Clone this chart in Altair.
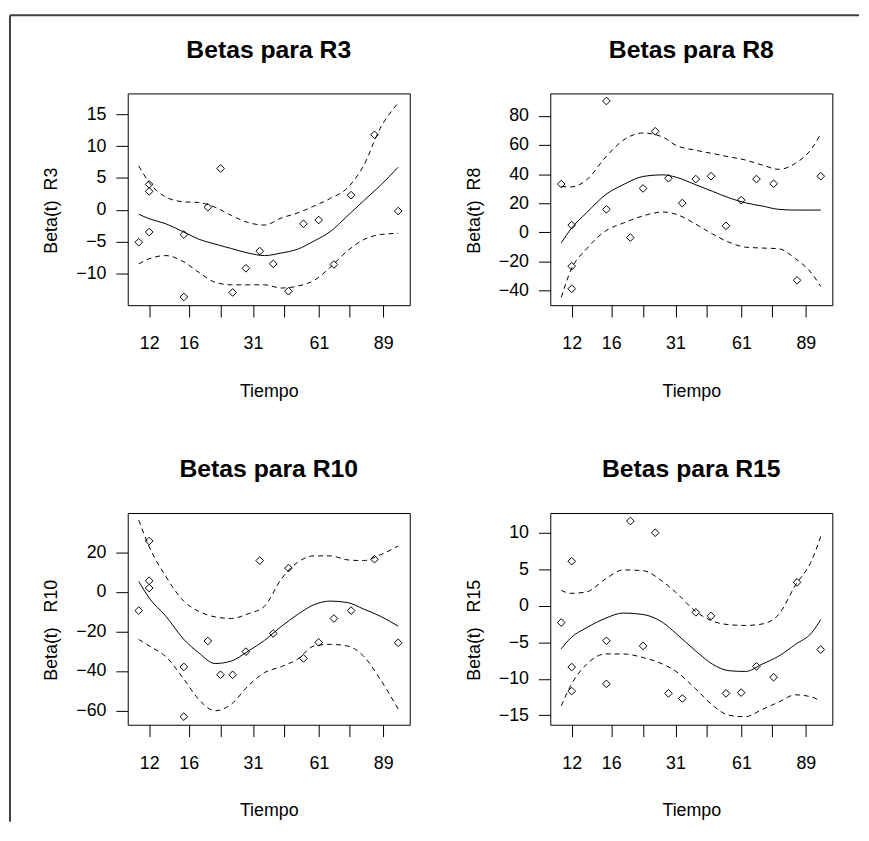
import altair as alt
import pandas as pd

FONT = "Liberation Sans"

# ---- shared x axis (transformed time scale, 0..1) ----
TIME_TICKS = [0.076, 0.216, 0.330, 0.444, 0.556, 0.678, 0.787, 0.906]
TIME_LABELS = ["12", "16", "", "31", "", "61", "", "89"]

POINT_TIME = [0.039, 0.076, 0.076, 0.076, 0.199, 0.199, 0.284, 0.329, 0.372, 0.419,
              0.468, 0.516, 0.570, 0.623, 0.677, 0.731, 0.792, 0.875, 0.959]

CURVE_TIME_A = [0.039, 0.076, 0.135, 0.199, 0.251, 0.310, 0.368, 0.427, 0.485,
                0.544, 0.602, 0.661, 0.719, 0.778, 0.836, 0.895, 0.959]
CURVE_TIME_B = [0.039, 0.073, 0.129, 0.197, 0.258, 0.329, 0.399, 0.446, 0.516,
                0.575, 0.634, 0.692, 0.751, 0.810, 0.869, 0.927, 0.959]

TITLES = ["Betas para R3", "Betas para R8", "Betas para R10", "Betas para R15"]
YLABELS = ["Beta(t)\u00a0\u00a0R3", "Beta(t)\u00a0\u00a0R8",
           "Beta(t)\u00a0\u00a0\u00a0R10", "Beta(t)\u00a0\u00a0\u00a0R15"]
X_TITLE = "Tiempo"

# ---- R3 ----
R3_POINTS = [-5.1, 4.0, 2.9, -3.5, -3.9, -13.7, 0.4, 6.5, -13.0, -9.2,
             -6.5, -8.5, -12.8, -2.2, -1.6, -8.6, 2.3, 11.8, -0.2]
R3_FIT = [-0.7, -1.4, -2.2, -3.5, -4.6, -5.4, -6.1, -6.8, -7.2, -6.8, -6.2,
          -4.9, -3.4, -1.0, 1.4, 3.8, 6.7]
R3_UPPER = [6.9, 4.3, 2.0, 1.25, 1.15, 0.4, -0.9, -2.0, -2.4, -1.3, -0.5,
            0.6, 1.8, 3.4, 6.9, 12.8, 16.8]
R3_LOWER = [-8.5, -7.7, -7.2, -8.2, -9.8, -11.4, -11.8, -11.8, -11.8, -12.3,
            -12.0, -11.1, -9.0, -6.5, -4.7, -3.9, -3.7]
R3_YDOMAIN = [-15.0, 18.3]
R3_YTICKS = [-10, -5, 0, 5, 10, 15]

# ---- R8 ----
R8_POINTS = [33.2, 5.0, -23.3, -38.8, 90.3, 15.8, -3.6, 30.2, 69.5, 37.2,
             20.1, 36.6, 38.6, 4.5, 22.1, 36.6, 33.4, -33.0, 38.6]
R8_FIT = [-7.2, 2.3, 13.5, 26.0, 32.7, 38.4, 39.5, 37.9, 32.7, 28.2, 23.7,
          20.3, 18.1, 15.8, 15.3, 15.3, 15.3]
R8_UPPER = [31.6, 31.2, 36.1, 51.9, 63.2, 68.3, 65.5, 59.8, 56.4, 54.2, 51.9,
            49.7, 46.3, 43.3, 47.4, 57.6, 67.7]
R8_LOWER = [-44.7, -26.0, -11.3, 1.1, 6.3, 11.3, 14.0, 12.4, 5.6, -1.1, -6.8,
            -10.2, -10.8, -11.3, -18.1, -28.2, -37.2]
R8_YDOMAIN = [-50.1, 95.5]
R8_YTICKS = [-40, -20, 0, 20, 40, 60, 80]

# ---- R10 ----
R10_POINTS = [-9.4, 25.8, 5.7, 2.0, -37.9, -63.1, -24.8, -41.9, -41.9, -30.2,
              15.9, -21.0, 12.1, -33.6, -25.5, -13.4, -9.4, 16.6, -25.7]
R10_FIT = [5.4, -3.0, -12.2, -24.0, -30.7, -36.2, -34.9, -29.9, -24.5, -17.5,
           -11.4, -6.4, -4.6, -5.3, -8.6, -12.2, -17.3]
R10_UPPER = [36.4, 23.0, 7.9, -4.7, -9.7, -12.6, -13.4, -11.0, -7.2, 6.5,
             15.0, 18.3, 18.3, 16.3, 15.9, 18.8, 23.3]
R10_LOWER = [-24.0, -27.3, -32.7, -44.1, -54.2, -60.1, -56.7, -47.5, -40.8,
             -37.8, -34.0, -27.3, -26.5, -27.3, -32.4, -44.1, -59.2]
R10_YDOMAIN = [-67.2, 40.0]
R10_YTICKS = [-60, -40, -20, 0, 20]

# ---- R15 ----
R15_POINTS = [-2.3, 6.1, -8.4, -11.7, -4.8, -10.7, 11.6, -5.5, 10.0, -12.0,
              -12.7, -0.9, -1.4, -12.0, -11.9, -8.3, -9.8, 3.2, -6.0]
R15_FIT = [-5.9, -4.4, -3.0, -1.7, -1.0, -1.2, -2.3, -3.8, -6.2, -8.0, -8.9,
           -9.0, -8.0, -6.9, -5.3, -3.7, -1.9]
R15_UPPER = [2.1, 1.7, 1.9, 3.7, 4.9, 4.8, 3.3, 1.8, -0.8, -2.1, -2.6, -2.7,
             -2.5, -1.2, 2.8, 6.2, 9.5]
R15_LOWER = [-13.7, -10.9, -8.0, -6.6, -6.6, -7.1, -8.0, -9.0, -11.4, -13.6,
             -15.0, -15.2, -14.2, -13.2, -12.2, -12.5, -13.1]
R15_YDOMAIN = [-16.3, 12.7]
R15_YTICKS = [-15, -10, -5, 0, 5, 10]

W, H = 285, 214

label_expr = "[" + ",".join("'%s'" % s for s in TIME_LABELS) + "][indexof([" + \
    ",".join(str(v) for v in TIME_TICKS) + "], datum.value)]"


def panel(title, ylab, pts, cu, fit, upper, lower, ydom, yticks, frame=False):
    n = len(cu)
    pts_df = pd.DataFrame({"u": POINT_TIME, "beta": pts})
    cur_df = pd.DataFrame({"u": cu * 3, "beta": fit + upper + lower,
                           "band": ["fit"] * n + ["upper"] * n + ["lower"] * n})
    x = alt.X("u:Q", scale=alt.Scale(domain=[0, 1], nice=False, zero=False),
              axis=alt.Axis(values=TIME_TICKS, labelExpr=label_expr, title=X_TITLE,
                            titleY=92, titleBaseline="alphabetic"))
    y = alt.Y("beta:Q", scale=alt.Scale(domain=ydom, nice=False, zero=False),
              axis=alt.Axis(values=yticks, title=ylab, titleX=-72, titleY=118,
                            titleBaseline="alphabetic", titleAlign="center"))
    base = alt.Chart(cur_df).encode(x=x, y=y)
    solid = base.transform_filter(alt.datum.band == "fit").mark_line(
        color="black", strokeWidth=1, interpolate="monotone")
    dashed = base.transform_filter(alt.datum.band != "fit").mark_line(
        color="black", strokeWidth=1, strokeDash=[5, 4], interpolate="monotone"
    ).encode(detail="band:N")
    points = alt.Chart(pts_df).mark_point(
        shape="diamond", size=60, filled=False, color="black", strokeWidth=1, opacity=1
    ).encode(x=x, y=y)
    ttl = alt.Chart(pd.DataFrame({"t": [title]})).mark_text(
        font=FONT, fontSize=25, fontWeight="bold", baseline="alphabetic",
        align="center", color="black"
    ).encode(text="t:N", x=alt.value(W / 2), y=alt.value(-36))
    layers = [solid, dashed, points, ttl]
    if frame:
        fdf = pd.DataFrame({"k": [0]})
        top = alt.Chart(fdf).mark_rule(color="#404040", strokeWidth=2).encode(
            x=alt.value(-119), x2=alt.value(739), y=alt.value(-79))
        left = alt.Chart(fdf).mark_rule(color="#404040", strokeWidth=2).encode(
            x=alt.value(-119), y=alt.value(-79), y2=alt.value(736))
        layers += [top, left]
    return alt.layer(*layers).properties(width=W, height=H)


p1 = panel(TITLES[0], YLABELS[0], R3_POINTS, CURVE_TIME_A, R3_FIT, R3_UPPER, R3_LOWER,
           R3_YDOMAIN, R3_YTICKS, frame=True)
p2 = panel(TITLES[1], YLABELS[1], R8_POINTS, CURVE_TIME_B, R8_FIT, R8_UPPER, R8_LOWER,
           R8_YDOMAIN, R8_YTICKS)
p3 = panel(TITLES[2], YLABELS[2], R10_POINTS, CURVE_TIME_A, R10_FIT, R10_UPPER, R10_LOWER,
           R10_YDOMAIN, R10_YTICKS)
p4 = panel(TITLES[3], YLABELS[3], R15_POINTS, CURVE_TIME_B, R15_FIT, R15_UPPER, R15_LOWER,
           R15_YDOMAIN, R15_YTICKS)

chart = alt.concat(p1, p2, p3, p4, columns=2, spacing={"row": 210, "column": 142},
                   bounds="flush").properties(
    padding={"left": 0, "top": 1, "right": 0, "bottom": 0},
    background="white",
).configure_view(stroke="black", strokeWidth=1).configure_axis(
    labelFont=FONT, labelFontSize=18, labelColor="black",
    tickColor="black", tickSize=12, tickWidth=1,
    domain=False, grid=False, labelOverlap=False, labelFlush=False,
    titleFont=FONT, titleFontSize=18, titleFontWeight="normal", titleColor="black",
).configure_axisX(labelPadding=18).configure_axisY(labelPadding=10)

chart.save("out.html", embed_options={"renderer": "svg", "actions": False})
